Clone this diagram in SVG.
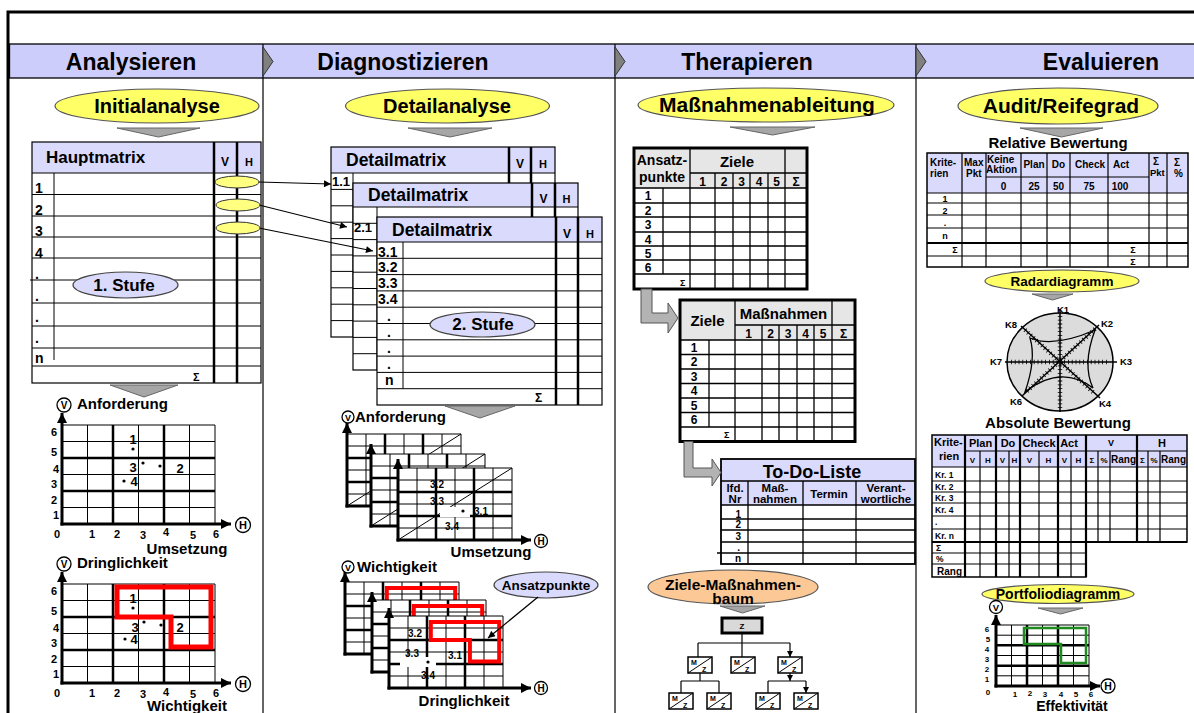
<svg xmlns="http://www.w3.org/2000/svg" width="1194" height="713" viewBox="0 0 1194 713">
<style>
text{font-family:"Liberation Sans",Arial,Helvetica,sans-serif;font-weight:bold;fill:#000}
.c{text-anchor:middle}
.e{text-anchor:end}
.thin{fill:none;stroke:#000;stroke-width:1}
.thick{fill:none;stroke:#000;stroke-width:2.5}
.axis{fill:none;stroke:#000;stroke-width:3}
.lav{fill:#dadafc}
.yel{fill:#ffff66;stroke:#555;stroke-width:1.2}
.lave{fill:#dadafc;stroke:#444;stroke-width:1.2}
.tri{fill:#a6a6a6;stroke:#666;stroke-width:1}
.circ{fill:#fff;stroke:#000;stroke-width:1.3}
.red{fill:none;stroke:#f00;stroke-width:4.5}
.wb{fill:#fff;stroke:none}
.tb{fill:none;stroke:#000;stroke-width:1.2}
.lgray{fill:#e6e6e6}
</style>
<defs>
<marker id="axh" viewBox="0 0 10 10" refX="10" refY="5" markerWidth="13" markerHeight="10" markerUnits="userSpaceOnUse" orient="auto"><path d="M0 0L10 5L0 10z"/></marker>
<marker id="arr" viewBox="0 0 10 10" refX="10" refY="5" markerWidth="9" markerHeight="7" markerUnits="userSpaceOnUse" orient="auto"><path d="M0 0L10 5L0 10z"/></marker>
<marker id="sarr" viewBox="0 0 10 10" refX="10" refY="5" markerWidth="6" markerHeight="6" markerUnits="userSpaceOnUse" orient="auto"><path d="M0 0L10 5L0 10z"/></marker>
<g id="mz">
<rect x="0" y="0" width="24" height="16" fill="#fff" stroke="#000" stroke-width="1.5"/>
<path d="M0 16L24 0" stroke="#000" stroke-width="1"/>
<text x="3" y="8" style="font-size:7px">M</text>
<text x="14" y="15" style="font-size:7px">Z</text>
</g>
</defs>
<rect width="1194" height="713" fill="#fff"/>

<!-- outer frame and phase band -->
<g id="frame">
<rect x="8" y="12" width="1200" height="720" fill="none" stroke="#000" stroke-width="3"/>
<rect x="9.5" y="44" width="1186" height="34" fill="#cdcdfb" stroke="#000" stroke-width="1.3"/>
<path d="M263 44V713M615 44V713M916 44V713" stroke="#000" stroke-width="1.2"/>
<path d="M263 47L273 61.5L263 76Z" fill="#808080" stroke="#333"/>
<path d="M615 47L625 61.5L615 76Z" fill="#808080" stroke="#333"/>
<path d="M916 47L926 61.5L916 76Z" fill="#808080" stroke="#333"/>
<text class="c" x="131" y="70" style="font-size:23px">Analysieren</text>
<text class="c" x="403" y="70" style="font-size:23px">Diagnostizieren</text>
<text class="c" x="747" y="70" style="font-size:23px">Therapieren</text>
<text class="c" x="1101" y="70" style="font-size:23px">Evaluieren</text>
</g>

<!-- ===== Analysieren ===== -->
<g id="initialanalyse">
<ellipse cx="157" cy="106" rx="102" ry="17" class="yel"/>
<text class="c" x="157" y="113" style="font-size:20px">Initialanalyse</text>
<path d="M117 128H200L158.5 137Z" class="tri"/>
</g>

<g id="hauptmatrix">
<rect x="32" y="142" width="229" height="241" fill="#fff"/>
<rect x="32" y="142" width="229" height="31" class="lav"/>
<path d="M32 173H261M32 194.5H261M32 216H261M32 237H261M32 258H261M30 280H261M32 303H261M32 326H261M32 348H261M32 366H261M54 173V360" class="thin"/>
<path d="M214 142V383M237 142V383" class="thick"/>
<rect x="32" y="142" width="229" height="241" class="tb"/>
<text x="46" y="163" style="font-size:17px">Hauptmatrix</text>
<text class="c" x="225" y="166" style="font-size:12px">V</text>
<text class="c" x="249" y="166" style="font-size:11px">H</text>
<g style="font-size:14px">
<text x="35" y="193">1</text><text x="35" y="215">2</text><text x="35" y="236">3</text><text x="35" y="258">4</text>
<text x="35" y="279">.</text><text x="35" y="301">.</text><text x="35" y="322">.</text><text x="35" y="343">.</text>
<text x="35" y="363">n</text>
</g>
<text x="193" y="381" style="font-size:11px">Σ</text>
<ellipse cx="125.5" cy="285" rx="52.5" ry="13" class="lave"/>
<text class="c" x="124" y="291" style="font-size:17px">1. Stufe</text>
<path d="M110 385H178L144 397Z" class="tri"/>
</g>

<g id="chart-anforderung">
<rect x="62" y="425" width="153" height="99" fill="#fff"/>
<path d="M87.5 425V524M138.5 425V524M189.5 425V524M215 425V524M62 425H215M62 441.5H215M62 474.5H215M62 507.5H215" class="thin"/>
<path d="M113 425V524M164 425V524M62 458H215M62 491H215" class="thick"/>
<path d="M62 525.5V413" class="axis" marker-end="url(#axh)"/>
<path d="M60.5 524H231" class="axis" marker-end="url(#axh)"/>
<circle cx="64" cy="405" r="7" class="circ"/><text class="c" x="64" y="409" style="font-size:10px">V</text>
<text x="77" y="409" style="font-size:15px">Anforderung</text>
<circle cx="243" cy="525" r="7.5" class="circ"/><text class="c" x="243" y="529" style="font-size:11px">H</text>
<g class="c" style="font-size:11px">
<text x="54" y="436">6</text><text x="54" y="456">5</text><text x="56" y="473">4</text><text x="54" y="488">3</text><text x="54" y="504">2</text><text x="56" y="519">1</text>
<text x="57" y="538">0</text><text x="92" y="538">1</text><text x="117" y="538">2</text><text x="143" y="539">3</text><text x="166" y="536">4</text><text x="193" y="539">5</text><text x="216" y="538">6</text>
</g>
<text class="c" x="187" y="554" style="font-size:15px">Umsetzung</text>
<g style="font-size:13px" class="c">
<text x="133" y="444">1</text><text x="133" y="472">3</text><text x="180" y="473">2</text><text x="134" y="486">4</text>
</g>
<circle cx="133" cy="449" r="1.6"/><circle cx="143" cy="463" r="1.6"/><circle cx="160" cy="466" r="1.6"/><circle cx="124" cy="481" r="1.6"/>
</g>

<g id="chart-dringlichkeit">
<rect x="62" y="584" width="153" height="99" fill="#fff"/>
<path d="M87.5 584V683M138.5 584V683M189.5 584V683M215 584V683M62 584H215M62 600.5H215M62 633.5H215M62 666.5H215" class="thin"/>
<path d="M113 584V683M164 584V683M62 617H215M62 650H215" class="thick"/>
<path d="M62 684.5V572" class="axis" marker-end="url(#axh)"/>
<path d="M60.5 683H231" class="axis" marker-end="url(#axh)"/>
<circle cx="64" cy="564" r="7" class="circ"/><text class="c" x="64" y="568" style="font-size:10px">V</text>
<text x="77" y="568" style="font-size:15px">Dringlichkeit</text>
<circle cx="243" cy="684" r="7.5" class="circ"/><text class="c" x="243" y="688" style="font-size:11px">H</text>
<g class="c" style="font-size:11px">
<text x="54" y="595">6</text><text x="54" y="615">5</text><text x="56" y="632">4</text><text x="54" y="647">3</text><text x="54" y="663">2</text><text x="56" y="678">1</text>
<text x="57" y="697">0</text><text x="92" y="697">1</text><text x="117" y="697">2</text><text x="143" y="698">3</text><text x="166" y="696">4</text><text x="193" y="698">5</text><text x="216" y="697">6</text>
</g>
<text class="c" x="187" y="711" style="font-size:15px">Wichtigkeit</text>
<path d="M117 587H211V647H171V617H117Z" class="red" style="stroke-width:5"/>
<g style="font-size:13px" class="c">
<text x="133" y="603">1</text><text x="135" y="632">3</text><text x="180" y="632">2</text><text x="134" y="644">4</text>
</g>
<circle cx="133" cy="608" r="1.6"/><circle cx="144" cy="622" r="1.6"/><circle cx="161" cy="625" r="1.6"/><circle cx="125" cy="639" r="1.6"/>
</g>

<!-- ===== Diagnostizieren ===== -->
<g id="detailanalyse">
<ellipse cx="447.5" cy="106" rx="102" ry="17" class="yel"/>
<text class="c" x="447" y="113" style="font-size:20px">Detailanalyse</text>
<path d="M408 128H492L450 137Z" class="tri"/>
</g>

<g id="detailmatrix-1">
<rect x="331" y="147" width="224" height="190" fill="#fff"/>
<rect x="331" y="147" width="224" height="26" class="lav"/>
<path d="M331 173H555M331 189.4H555M331 205.8H555M331 222.2H555M331 238.6H555M331 255H555M331 271.4H555M331 287.8H555M331 304.2H555M331 320.6H555M353 173V337" class="thin"/>
<path d="M509 147V337M531 147V337" class="thick"/>
<rect x="331" y="147" width="224" height="190" class="tb"/>
<text x="346" y="166" style="font-size:17.5px">Detailmatrix</text>
<text class="c" x="520" y="168" style="font-size:12px">V</text>
<text class="c" x="543" y="168" style="font-size:11px">H</text>
<text x="332" y="186" style="font-size:13px">1.1</text>
</g>

<g id="detailmatrix-2">
<rect x="353" y="183" width="225" height="187" fill="#fff"/>
<rect x="353" y="183" width="225" height="24" class="lav"/>
<path d="M353 207H578M353 223.3H578M353 239.6H578M353 255.9H578M353 272.2H578M353 288.5H578M353 304.8H578M353 321.1H578M353 337.4H578M353 353.7H578M377 207V370" class="thin"/>
<path d="M532 183V370M555 183V370" class="thick"/>
<rect x="353" y="183" width="225" height="187" class="tb"/>
<text x="368" y="201" style="font-size:17.5px">Detailmatrix</text>
<text class="c" x="543.5" y="203" style="font-size:12px">V</text>
<text class="c" x="566.5" y="203" style="font-size:11px">H</text>
<text x="354" y="232" style="font-size:13px">2.1</text>
</g>

<g id="detailmatrix-3">
<rect x="377" y="217" width="225" height="188" fill="#fff"/>
<rect x="377" y="217" width="225" height="25" class="lav"/>
<path d="M377 242H602M377 258.3H602M377 274.6H602M377 290.9H602M377 307.2H602M377 323.5H602M377 339.8H602M377 356.1H602M377 372.4H602M377 388.7H602M403 242V388.7" class="thin"/>
<path d="M556 217V405M578 217V405" class="thick"/>
<rect x="377" y="217" width="225" height="188" class="tb"/>
<text x="392" y="236" style="font-size:17.5px">Detailmatrix</text>
<text class="c" x="567" y="238" style="font-size:12px">V</text>
<text class="c" x="590" y="238" style="font-size:11px">H</text>
<g style="font-size:14px">
<text x="378" y="256.5">3.1</text><text x="378" y="272">3.2</text><text x="378" y="288">3.3</text><text x="378" y="304">3.4</text>
<text x="387" y="321">.</text><text x="387" y="337">.</text><text x="387" y="353">.</text><text x="387" y="369">.</text>
<text x="385" y="385">n</text>
</g>
<text x="535" y="402" style="font-size:12px">Σ</text>
<ellipse cx="482.5" cy="324.5" rx="52.5" ry="12.5" class="lave"/>
<text class="c" x="483" y="330" style="font-size:17px">2. Stufe</text>
<path d="M445 406H515L480 418Z" class="tri"/>
</g>

<g id="charts-umsetzung">
<rect x="347" y="434" width="114" height="72" fill="#fff"/>
<path d="M366 434V506M404 434V506M442 434V506M461 434V506M347 434H461M347 446H461M347 470H461M347 494H461M347 506L461 434" class="thin"/>
<path d="M385 434V506M423 434V506M347 458H461M347 482H461" class="thick"/>
<path d="M347 507.5V423" class="axis" marker-end="url(#axh)"/>
<path d="M345.5 506H461" class="axis"/>
<rect x="371" y="454" width="114" height="72" fill="#fff"/>
<path d="M390 454V526M428 454V526M466 454V526M485 454V526M371 454H485M371 466H485M371 490H485M371 514H485M371 526L485 454" class="thin"/>
<path d="M409 454V526M447 454V526M371 478H485M371 502H485" class="thick"/>
<path d="M371 527.5V444" class="axis" marker-end="url(#axh)"/>
<path d="M369.5 526H485" class="axis"/>
<rect x="398" y="468" width="114" height="72" fill="#fff"/>
<path d="M417 468V540M455 468V540M493 468V540M512 468V540M398 468H512M398 480H512M398 504H512M398 528H512M398 540L512 468" class="thin"/>
<path d="M436 468V540M474 468V540M398 492H512M398 516H512" class="thick"/>
<path d="M398 541.5V459" class="axis" marker-end="url(#axh)"/>
<path d="M396.5 540H531" class="axis" marker-end="url(#axh)"/>
<rect x="440" y="507" width="30" height="10" class="wb"/>
<circle cx="348" cy="417" r="6" class="circ"/><text class="c" x="348" y="420.5" style="font-size:9px">V</text>
<text x="355" y="422" style="font-size:15px">Anforderung</text>
<circle cx="541" cy="541" r="6.5" class="circ"/><text class="c" x="541" y="544.5" style="font-size:10px">H</text>
<text class="c" x="491" y="557" style="font-size:15px">Umsetzung</text>
<g class="c" style="font-size:10px">
<text x="437" y="488">3.2</text><text x="437" y="505">3.3</text><text x="481" y="515">3.1</text><text x="452" y="530">3.4</text>
</g>
<circle cx="463" cy="511" r="1.6"/>
</g>

<g id="charts-dringlichkeit">
<rect x="345" y="582" width="114" height="72" fill="#fff"/>
<path d="M364 582V654M402 582V654M440 582V654M459 582V654M345 582H459M345 594H459M345 618H459M345 642H459" class="thin"/>
<path d="M383 582V654M421 582V654M345 606H459M345 630H459" class="thick"/>
<path d="M345 655.5V572" class="axis" marker-end="url(#axh)"/>
<path d="M343.5 654H459" class="axis"/>
<path d="M386.8 588H455.2V627.6H425.9V606H386.8Z" class="red" style="stroke-width:4"/>
<rect x="372" y="600" width="114" height="72" fill="#fff"/>
<path d="M391 600V672M429 600V672M467 600V672M486 600V672M372 600H486M372 612H486M372 636H486M372 660H486" class="thin"/>
<path d="M410 600V672M448 600V672M372 624H486M372 648H486" class="thick"/>
<path d="M372 673.5V592" class="axis" marker-end="url(#axh)"/>
<path d="M370.5 672H486" class="axis"/>
<path d="M413.8 606H482.2V645.6H452.9V624H413.8Z" class="red" style="stroke-width:4"/>
<rect x="389" y="616" width="114" height="72" fill="#fff"/>
<path d="M408 616V688M446 616V688M484 616V688M503 616V688M389 616H503M389 628H503M389 652H503M389 676H503" class="thin"/>
<path d="M427 616V688M465 616V688M389 640H503M389 664H503" class="thick"/>
<path d="M389 689.5V608" class="axis" marker-end="url(#axh)"/>
<path d="M387.5 688H531" class="axis" marker-end="url(#axh)"/>
<path d="M430.8 622H499.2V661.6H469.9V640H430.8Z" class="red" style="stroke-width:4"/>
<rect x="400" y="657" width="36" height="10" class="wb"/>
<circle cx="348" cy="567" r="6" class="circ"/><text class="c" x="348" y="570.5" style="font-size:9px">V</text>
<text x="357" y="572" style="font-size:15px">Wichtigkeit</text>
<circle cx="541" cy="688" r="6.5" class="circ"/><text class="c" x="541" y="691.5" style="font-size:10px">H</text>
<text class="c" x="464" y="706" style="font-size:15px">Dringlichkeit</text>
<g class="c" style="font-size:10px">
<text x="415" y="637">3.2</text><text x="412" y="657">3.3</text><text x="455" y="659">3.1</text><text x="428" y="679">3.4</text>
</g>
<circle cx="428" cy="662" r="1.6"/>
</g>

<g id="ansatzpunkte">
<ellipse cx="546" cy="585" rx="52" ry="13" class="lave"/>
<text class="c" x="546" y="590" style="font-size:13.5px">Ansatzpunkte</text>
</g>

<!-- ===== Therapieren ===== -->
<g id="massnahmenableitung">
<ellipse cx="766" cy="105" rx="128" ry="17" class="yel"/>
<text class="c" x="767" y="112" style="font-size:21px">Maßnahmenableitung</text>
<path d="M730 127H815L772.5 135Z" class="tri"/>
</g>

<g id="tabelle-ziele">
<rect x="634" y="148" width="173" height="141" fill="#fff"/>
<rect x="634" y="148" width="173" height="40" class="lgray"/>
<path d="M690 148V289M785 148V289M690 173H807M634 188H807M715 173V289M733 173V289M750 173V289M768 173V289M634 203H807M634 217H807M634 232H807M634 246H807M634 260H807M634 274H807M663 188V274" class="thin" style="stroke-width:1.3"/>
<rect x="634" y="148" width="173" height="141" fill="none" stroke="#000" stroke-width="3"/>
<text class="c" x="662" y="165" style="font-size:14px">Ansatz-</text>
<text class="c" x="662" y="182" style="font-size:14px">punkte</text>
<text class="c" x="737" y="167" style="font-size:15px">Ziele</text>
<g class="c" style="font-size:12px">
<text x="702.5" y="186">1</text><text x="724" y="186">2</text><text x="741.5" y="186">3</text><text x="759" y="186">4</text><text x="776.5" y="186">5</text><text x="796" y="186">Σ</text>
<text x="648" y="200">1</text><text x="648" y="214.5">2</text><text x="648" y="229">3</text><text x="648" y="243.5">4</text><text x="648" y="257.5">5</text><text x="648" y="271.5">6</text>
</g>
<text x="680" y="286" style="font-size:9px">Σ</text>
</g>

<g id="tabelle-massnahmen">
<rect x="680" y="300" width="175" height="141.5" fill="#fff"/>
<rect x="680" y="300" width="175" height="40" class="lgray"/>
<path d="M735 300V441.5M832 300V441.5M735 325H855M680 340H855M762 325V441.5M779 325V441.5M797 325V441.5M814 325V441.5M680 354.5H855M680 369H855M680 383.5H855M680 398H855M680 412.5H855M680 427H855M709 340V427" class="thin" style="stroke-width:1.3"/>
<rect x="680" y="300" width="175" height="141.5" fill="none" stroke="#000" stroke-width="3"/>
<text class="c" x="707.5" y="326" style="font-size:15px">Ziele</text>
<text class="c" x="783.5" y="319" style="font-size:15px">Maßnahmen</text>
<g class="c" style="font-size:12px">
<text x="748.5" y="338">1</text><text x="770.5" y="338">2</text><text x="788" y="338">3</text><text x="805.5" y="338">4</text><text x="823" y="338">5</text><text x="843.5" y="338">Σ</text>
<text x="694" y="351.5">1</text><text x="694" y="366">2</text><text x="694" y="380.5">3</text><text x="694" y="395">4</text><text x="694" y="409.5">5</text><text x="694" y="424">6</text>
</g>
<text x="724" y="438" style="font-size:9px">Σ</text>
</g>

<g id="todo-liste">
<rect x="721" y="459" width="194" height="105" fill="#fff"/>
<rect x="721" y="459" width="194" height="46" class="lav"/>
<path d="M721 481H915M721 505H915M748 481V564M803 481V564M856 481V564M721 519H915M721 530H915M721 542H915M717 553H915" class="thin" style="stroke-width:1.3"/>
<rect x="721" y="459" width="194" height="105" fill="none" stroke="#000" stroke-width="1.8"/>
<text class="c" x="812" y="478" style="font-size:18px">To-Do-Liste</text>
<g class="c" style="font-size:11.5px">
<text x="735" y="492">lfd.</text><text x="735" y="503">Nr</text>
<text x="775" y="492">Maß-</text><text x="775" y="503">nahmen</text>
<text x="829" y="498">Termin</text>
<text x="886" y="492">Verant-</text><text x="886" y="503">wortliche</text>
</g>
<g class="e" style="font-size:10px">
<text x="741" y="518">1</text><text x="741" y="528">2</text><text x="741" y="540">3</text><text x="740" y="551">.</text><text x="741" y="562">n</text>
</g>
</g>

<g id="ziele-massnahmen-baum">
<ellipse cx="733" cy="587" rx="85" ry="17" fill="#fcc896" stroke="#555" stroke-width="1.2"/>
<text class="c" x="733" y="590" style="font-size:15.5px">Ziele-Maßnahmen-</text>
<text class="c" x="733" y="604" style="font-size:15.5px">baum</text>
<path d="M720 606H765L742.5 613Z" class="tri"/>
<rect x="722" y="618" width="40" height="15" fill="#d9d9d9" stroke="#000" stroke-width="3"/>
<text class="c" x="742" y="629" style="font-size:8px">Z</text>
<use href="#mz" x="688" y="657"/>
<use href="#mz" x="731" y="657"/>
<use href="#mz" x="778" y="657"/>
<use href="#mz" x="669" y="693"/>
<use href="#mz" x="707" y="693"/>
<use href="#mz" x="756" y="693"/>
<use href="#mz" x="794" y="693"/>
</g>

<!-- ===== Evaluieren ===== -->
<g id="audit-reifegrad">
<ellipse cx="1058" cy="106" rx="100" ry="18" class="yel"/>
<text class="c" x="1061" y="113" style="font-size:21px">Audit/Reifegrad</text>
<path d="M1020 128H1103L1061.5 137Z" class="tri"/>
</g>

<g id="relative-bewertung">
<text class="c" x="1058" y="148" style="font-size:15px">Relative Bewertung</text>
<rect x="927" y="153" width="261" height="114" fill="#fff"/>
<rect x="927" y="153" width="261" height="40" class="lav"/>
<path d="M962 153V267M986 153V267M1021 153V267M1047 153V267M1070 153V267M1108 153V267M1149 153V267M1167 153V267M986 177H1149M927 193H1188M927 203H1188M927 215H1188M927 228H1188M927 256H1188" class="thin" style="stroke-width:1.2"/>
<path d="M927 243H1188" stroke="#000" stroke-width="2"/>
<rect x="927" y="153" width="261" height="114" fill="none" stroke="#000" stroke-width="1.5"/>
<g style="font-size:10px">
<text x="930" y="166">Krite-</text><text x="930" y="177">rien</text>
<text x="964" y="166">Max</text><text x="966" y="177">Pkt</text>
<text x="987" y="163">Keine</text><text x="986" y="173">Aktion</text>
<text x="1113" y="168">Act</text>
<text x="1153" y="165">Σ</text><text x="1174" y="166">Σ</text><text x="1174" y="177">%</text>
</g>
<text x="1150" y="176" style="font-size:9.5px">Pkt</text>
<g class="c" style="font-size:10px">
<text x="1034" y="168">Plan</text><text x="1058.5" y="168">Do</text><text x="1090" y="168">Check</text>
<text x="1003.5" y="190">0</text><text x="1034" y="190">25</text><text x="1058.5" y="190">50</text><text x="1089" y="190">75</text><text x="1120" y="190">100</text>
</g>
<g class="c" style="font-size:9px">
<text x="945" y="202">1</text><text x="945" y="214">2</text><text x="945" y="226">.</text><text x="945" y="239">n</text>
<text x="955" y="253">Σ</text><text x="1133" y="253">Σ</text><text x="1133" y="265">Σ</text>
</g>
</g>

<g id="radardiagramm">
<ellipse cx="1062" cy="281" rx="77" ry="11" class="yel"/>
<text class="c" x="1062" y="286" style="font-size:13.5px">Radardiagramm</text>
<path d="M1032 294H1073L1052.5 300Z" class="tri"/>
<ellipse cx="1060" cy="362" rx="53" ry="49" fill="#dcdcdc" stroke="#000" stroke-width="1.5"/>
<path d="M1060 309V412M1005 362H1117M1021 326L1100 398M1099 325L1022 396" stroke="#000" stroke-width="1.5"/>
<path d="M1060 316V408M1011 362H1109M1025 330L1094 393M1095 329L1026 392" stroke="#000" stroke-width="4.5" stroke-dasharray="0.8 3"/>
<path d="M1030 338Q1053.5 348 1095 330Q1082 365 1093 388Q1061 364 1025 392Q1036.5 359 1030 338Z" fill="none" stroke="#000" stroke-width="1.3"/>
<g class="c" style="font-size:9.5px">
<text x="1063" y="313">K1</text><text x="1107" y="327">K2</text><text x="1126" y="365">K3</text><text x="1105" y="407">K4</text>
<text x="1016" y="405">K6</text><text x="996" y="365">K7</text><text x="1011" y="328">K8</text>
</g>
</g>

<g id="absolute-bewertung">
<text class="c" x="1058" y="428" style="font-size:15px">Absolute Bewertung</text>
<path d="M932 435H1187V542H1086V577H932Z" fill="#fff"/>
<rect x="932" y="435" width="255" height="32" class="lav"/>
<path d="M980 451V577M1009 451V577M1039 451V577M1071 451V577M1098 451V542M1110 451V542M1148 451V542M1160 451V542M965 451H1187M932 467H1187M932 481H1187M932 492H1187M932 503H1187M932 516H1187M932 529H1187M932 553H1086M932 564H1086" class="thin" style="stroke-width:1.2"/>
<path d="M965 435V577M996 435V577M1020 435V577M1058 435V577M1086 435V577M1137 435V542" stroke="#000" stroke-width="2.2"/>
<path d="M932 542H1187" stroke="#000" stroke-width="1.8"/>
<path d="M932 435H1187V542H1086V577H932Z" fill="none" stroke="#000" stroke-width="1.5"/>
<g style="font-size:11px">
<text x="934" y="446">Krite-</text><text x="939" y="460">rien</text>
</g>
<g class="c" style="font-size:11px">
<text x="980.5" y="447">Plan</text><text x="1008" y="447">Do</text><text x="1039" y="447">Check</text><text x="1069" y="447">Act</text>
<text x="1162" y="447">H</text>
</g>
<text class="c" x="1111" y="446" style="font-size:9px">V</text>
<g class="c" style="font-size:8px">
<text x="972.5" y="463">V</text><text x="988" y="463">H</text><text x="1002.5" y="463">V</text><text x="1014.5" y="463">H</text>
<text x="1029.5" y="463">V</text><text x="1048.5" y="463">H</text><text x="1064.5" y="463">V</text><text x="1078.5" y="463">H</text>
<text x="1092" y="463">Σ</text><text x="1104" y="463">%</text><text x="1142.5" y="463">Σ</text><text x="1154" y="463">%</text>
</g>
<g class="c" style="font-size:10px">
<text x="1123.5" y="463">Rang</text><text x="1173.5" y="463">Rang</text>
</g>
<g style="font-size:8.5px">
<text x="935" y="478">Kr. 1</text><text x="935" y="490">Kr. 2</text><text x="935" y="501">Kr. 3</text><text x="935" y="513">Kr. 4</text>
<text x="935" y="525">.</text><text x="935" y="539">Kr. n</text><text x="936" y="551">Σ</text><text x="936" y="562">%</text>
</g>
<text x="937" y="575" style="font-size:10px">Rang</text>
</g>

<g id="portfoliodiagramm">
<ellipse cx="1058" cy="594" rx="76" ry="9.5" class="yel"/>
<text class="c" x="1058" y="599" style="font-size:14px">Portfoliodiagramm</text>
<path d="M1038 608H1083L1060.5 614Z" class="tri"/>
<rect x="996" y="625" width="93" height="61" fill="#fff"/>
<path d="M1011.5 625V686M1042.5 625V686M1073.5 625V686M1089 625V686M996 625H1089M996 635.2H1089M996 655.5H1089M996 675.8H1089" class="thin"/>
<path d="M1027 625V686M1058 625V686M996 645.3H1089M996 665.7H1089" class="thick"/>
<path d="M996 687.5V615" class="axis" marker-end="url(#axh)"/>
<path d="M994.5 686H1100" class="axis" marker-end="url(#axh)"/>
<path d="M1024 628H1086V663H1061V644H1024Z" fill="none" stroke="#1f8a1f" stroke-width="2.5"/>
<circle cx="996" cy="607" r="6.5" class="circ"/><text class="c" x="996" y="610.5" style="font-size:9.5px">V</text>
<circle cx="1108" cy="686" r="7" class="circ"/><text class="c" x="1108" y="690" style="font-size:10.5px">H</text>
<g class="c" style="font-size:8px">
<text x="987" y="632">6</text><text x="988" y="642">5</text><text x="987" y="652">4</text><text x="987" y="662">3</text><text x="987" y="672">2</text><text x="987" y="682">1</text>
<text x="988" y="695">0</text><text x="1015" y="697">1</text><text x="1030" y="696">2</text><text x="1045" y="697">3</text><text x="1061" y="697">4</text><text x="1076" y="697">5</text><text x="1091" y="697">6</text>
</g>
<text class="c" x="1072" y="711" style="font-size:14px">Effektivität</text>
</g>

<!-- connectors -->
<g id="connectors" fill="none" stroke="#000">
<path d="M258 182L331 184" stroke-width="1.2" marker-end="url(#arr)"/>
<path d="M259 205L347 227" stroke-width="1.2" marker-end="url(#arr)"/>
<path d="M259 228L373 251" stroke-width="1.2" marker-end="url(#arr)"/>
<path d="M538 597L488 638" stroke-width="1.2" marker-end="url(#arr)"/>
<path d="M641 289V323H668V333L678 318L668 303V313H652V289Z" fill="#b3b3b3" stroke="#555"/>
<path d="M684 441.5V477H712V486L721 472.5L712 459V468H693V441.5Z" fill="#b3b3b3" stroke="#555"/>
<path d="M742 633V643M698 643H790" stroke-width="1.2"/>
<path d="M698 643V657M742 643V657M790 643V657" stroke-width="1.2" marker-end="url(#sarr)"/>
<path d="M700 673V681M790 673V681" stroke-width="1.2" marker-end="url(#sarr)"/>
<path d="M681 681H719M768 681H806" stroke-width="1.2"/>
<path d="M681 681V693M719 681V693M768 681V693M806 681V693" stroke-width="1.2" marker-end="url(#sarr)"/>
</g>
<g id="markers-v">
<ellipse cx="237" cy="182" rx="22" ry="6" fill="#ffff80" stroke="#333" stroke-width="1"/>
<ellipse cx="238" cy="205" rx="22" ry="6" fill="#ffff80" stroke="#333" stroke-width="1"/>
<ellipse cx="238" cy="228" rx="22" ry="6" fill="#ffff80" stroke="#333" stroke-width="1"/>
</g>
</svg>
